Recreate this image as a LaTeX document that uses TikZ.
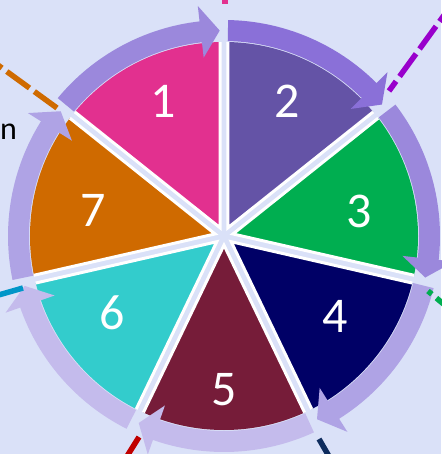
\documentclass[tikz,border=0pt]{standalone}
\usepackage{fontspec}
\setmainfont{Carlito}
\definecolor{bgblue}{HTML}{DAE1F8}
\definecolor{secone}{HTML}{E2308F}
\definecolor{sectwo}{HTML}{6453A6}
\definecolor{secthree}{HTML}{00AE50}
\definecolor{secfour}{HTML}{000066}
\definecolor{secfive}{HTML}{761C39}
\definecolor{secsix}{HTML}{33CCCC}
\definecolor{secseven}{HTML}{CF6A00}
\definecolor{arrdark}{HTML}{8A70D8}
\definecolor{arrmid}{HTML}{9B88DC}
\definecolor{arrlight}{HTML}{AFA3E5}
\definecolor{arrpale}{HTML}{C4BBEC}
\definecolor{linepurple}{HTML}{9900CC}
\definecolor{linenavy}{HTML}{0E2C5E}
\definecolor{linered}{HTML}{C00000}
\definecolor{lineblue}{HTML}{0096C8}

\begin{document}
\begin{tikzpicture}[x=1pt, y=1pt,
  every node/.style={font=\fontsize{50}{50}\selectfont, text=white, inner sep=0pt},
  leader/.style={line width=5.5pt, dash pattern=on 28pt off 6pt}]
  % background
  \fill[bgblue] (-224,-218) rectangle (217,236);
  \useasboundingbox (-224,-218) rectangle (217,236);

  % sectors
  \foreach \i/\col in {1/secone, 2/sectwo, 3/secthree, 4/secfour, 5/secfive, 6/secsix, 7/secseven} {
    \pgfmathsetmacro\ahi{141.43-(\i-1)*51.43}
    \pgfmathsetmacro\alo{\ahi-51.43}
    \pgfmathsetmacro\amid{\ahi-25.71}
    \begin{scope}
      \clip (0,0) circle (194);
      \coordinate (P\i) at (\amid:9.2);
      \fill[\col] (P\i) -- +(\ahi:300) -- +(\alo:300) -- cycle;
      \draw[white, line width=3pt] (P\i) +(\ahi:300) -- (P\i) -- +(\alo:300);
    \end{scope}
  }

  % arrows
  \foreach \i/\col in {1/arrmid, 2/arrdark, 3/arrmid, 4/arrlight, 5/arrpale, 6/arrpale, 7/arrlight} {
    \pgfmathsetmacro\as{141.43-(\i-1)*51.43-1.1}
    \pgfmathsetmacro\at{141.43-\i*51.43+1.2}
    \pgfmathsetmacro\ah{\at+5.3}
    \fill[\col] (\as:195) arc[start angle=\as, end angle=\ah, radius=195]
      -- (\ah:179.5) -- (\at:205.5) -- (\ah:231.5) -- (\ah:216)
      arc[start angle=\ah, end angle=\as, radius=216] -- cycle;
  }

  % leader lines
  \draw[leader, secone] (1,232) -- ++(90:40);
  \draw[leader, linepurple, dash phase=16pt] (165,145) -- ++(54:200);
  \draw[leader, secthree, dash phase=23pt] (204,-55) -- ++(-40:60);
  \draw[leader, linenavy] (95,-203) -- ++(-60:60);
  \draw[leader, linered] (-85,-201) -- ++(-122:60);
  \draw[leader, lineblue] (-201,-52) -- ++(-164:60);
  \draw[leader, secseven] (-167,128) -- ++(144:200);

  % numbers
  \node (n1) at (-61,135) {1};
  \node (n2) at (63,135) {2};
  \node (n3) at (135,25) {3};
  \node (n4) at (111,-80) {4};
  \node (n5) at (0,-154) {5};
  \node (n6) at (-112,-77) {6};
  \node (n7) at (-131,26) {7};

  % side label
  \node[anchor=base west, text=black, font=\fontsize{32}{32}\selectfont] (side) at (-224,96) {n};
\end{tikzpicture}
\end{document}
